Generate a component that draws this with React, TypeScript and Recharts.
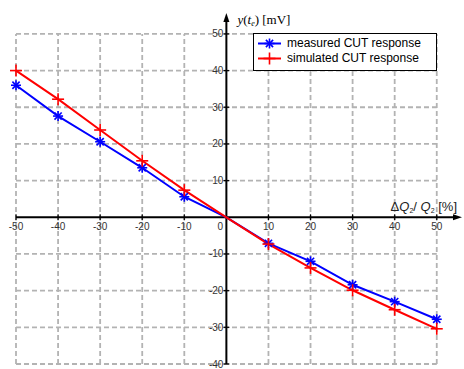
import { ComposedChart, Legend, Line, ReferenceDot, ReferenceLine, XAxis, YAxis } from "recharts"

const deltaQ = [-50, -40, -30, -20, -10, 0, 10, 20, 30, 40, 50]
const measured = [36, 27.6, 20.6, 13.5, 5.6, 0, -7.1, -12, -18.4, -23, -27.8]
const simulated = [40, 32.2, 23.8, 15.4, 7.4, 0, -7.3, -13.8, -19.9, -25.2, -30.4]

const xTicks = [-50, -40, -30, -20, -10, 10, 20, 30, 40, 50]
const yTicks = [-40, -30, -20, -10, 10, 20, 30, 40, 50]
const gridX = [-50, -40, -30, -20, -10, 10, 20, 30, 40, 50]
const gridY = [-40, -30, -20, -10, 10, 20, 30, 40, 50]

const X_MIN = -50
const X_MAX = 50
const Y_MIN = -40
const Y_MAX = 50
const X_ARROW = 56
const Y_ARROW = 55.7

const data = deltaQ.map((q, i) => ({ q, measured: measured[i], simulated: simulated[i] }))

const FONT = "'Liberation Sans', Arial, sans-serif"
const SERIF = "'Liberation Serif', 'Times New Roman', serif"
const GRID = "#b3b3b3"

// no marker drawn at the origin, the axes cross there
function StarDot(props: any) {
  const { cx, cy, payload } = props
  if (cx == null || cy == null || (payload && payload.q === 0)) return null
  const r = 5
  const d = 3.6
  return (
    <g stroke="#0000ff" strokeWidth={1.6}>
      <line x1={cx - r} y1={cy} x2={cx + r} y2={cy} />
      <line x1={cx} y1={cy - r} x2={cx} y2={cy + r} />
      <line x1={cx - d} y1={cy - d} x2={cx + d} y2={cy + d} />
      <line x1={cx - d} y1={cy + d} x2={cx + d} y2={cy - d} />
    </g>
  )
}

function PlusDot(props: any) {
  const { cx, cy, payload } = props
  if (cx == null || cy == null || (payload && payload.q === 0)) return null
  const r = 6
  return (
    <g stroke="#ff0000" strokeWidth={1.6}>
      <line x1={cx - r} y1={cy} x2={cx + r} y2={cy} />
      <line x1={cx} y1={cy - r} x2={cx} y2={cy + r} />
    </g>
  )
}

function xTickShape(label: string) {
  return (p: any) => (
    <g>
      <line x1={p.cx} y1={p.cy - 3} x2={p.cx} y2={p.cy + 3} stroke="#000" strokeWidth={1.2} />
      <text x={p.cx} y={p.cy + 13} textAnchor="middle" fontSize={10} fontFamily={FONT} fill="#333">
        {label}
      </text>
    </g>
  )
}

function yTickShape(label: string) {
  return (p: any) => (
    <g>
      <line x1={p.cx - 3} y1={p.cy} x2={p.cx + 3} y2={p.cy} stroke="#000" strokeWidth={1.2} />
      <text x={p.cx - 3} y={p.cy + 3.5} textAnchor="end" fontSize={10} fontFamily={FONT} fill="#333">
        {label}
      </text>
    </g>
  )
}

function LegendBox() {
  const rows = [
    { name: "measured CUT response", Dot: StarDot, color: "#0000ff" },
    { name: "simulated CUT response", Dot: PlusDot, color: "#ff0000" },
  ]
  return (
    <div
      style={{
        boxSizing: "border-box",
        width: 184,
        height: 38,
        border: "1.5px solid #000",
        background: "#fff",
        padding: "2px 0 0 3px",
        fontFamily: FONT,
        fontSize: 12,
        lineHeight: "15px",
        color: "#000",
      }}
    >
      {rows.map(r => (
        <div key={r.name} style={{ display: "flex", alignItems: "center", height: 15 }}>
          <svg width={28} height={15} style={{ flex: "none" }}>
            <line x1={1} y1={7.5} x2={24} y2={7.5} stroke={r.color} strokeWidth={2} />
            <r.Dot cx={12.5} cy={7.5} />
          </svg>
          <span style={{ whiteSpace: "nowrap", marginLeft: 2 }}>{r.name}</span>
        </div>
      ))}
    </div>
  )
}

export default function App() {
  return (
    <div style={{ position: "absolute", left: 0, top: 0, background: "#fff" }}>
      <ComposedChart
        width={464}
        height={369}
        data={data}
        margin={{ top: 13, right: 2, bottom: 5, left: 16 }}
      >
        <XAxis dataKey="q" type="number" domain={[X_MIN, X_ARROW]} hide />
        <YAxis type="number" domain={[Y_MIN, Y_ARROW]} hide />

        {gridX.map(x => (
          <ReferenceLine
            key={`gx${x}`}
            segment={[{ x, y: Y_MIN }, { x, y: Y_MAX }]}
            stroke={GRID}
            strokeWidth={1.8}
            strokeDasharray="5 3"
          />
        ))}
        {gridY.map(y => (
          <ReferenceLine
            key={`gy${y}`}
            segment={[{ x: X_MIN, y }, { x: X_MAX, y }]}
            stroke={GRID}
            strokeWidth={1.8}
            strokeDasharray="5 3"
          />
        ))}

        <ReferenceLine
          segment={[{ x: X_MIN, y: 0 }, { x: X_ARROW - 1.5, y: 0 }]}
          stroke="#000"
          strokeWidth={2}
        />
        <ReferenceLine
          segment={[{ x: 0, y: Y_MIN }, { x: 0, y: Y_ARROW - 1.5 }]}
          stroke="#000"
          strokeWidth={2}
        />

        <Line
          dataKey="measured"
          stroke="#0000ff"
          strokeWidth={2}
          dot={<StarDot />}
          activeDot={false}
          isAnimationActive={false}
        />
        <Line
          dataKey="simulated"
          stroke="#ff0000"
          strokeWidth={2}
          dot={<PlusDot />}
          activeDot={false}
          isAnimationActive={false}
        />

        {xTicks.map(t => (
          <ReferenceDot key={`xt${t}`} x={t} y={0} r={0} shape={xTickShape(String(t))} />
        ))}
        {yTicks.map(t => (
          <ReferenceDot key={`yt${t}`} x={0} y={t} r={0} shape={yTickShape(String(t))} />
        ))}
        <ReferenceDot
          x={0}
          y={0}
          r={0}
          shape={(p: any) => (
            <text x={p.cx - 6} y={p.cy + 13} textAnchor="middle" fontSize={10} fontFamily={FONT} fill="#333">
              0
            </text>
          )}
        />

        <ReferenceDot
          x={0}
          y={Y_ARROW}
          r={0}
          shape={(p: any) => (
            <g>
              <path d={`M${p.cx},${p.cy} L${p.cx - 3},${p.cy + 9} L${p.cx + 3},${p.cy + 9} Z`} fill="#000" />
              <text x={p.cx + 11} y={p.cy + 11} fontSize={13} fontFamily={SERIF} fill="#000">
                <tspan fontStyle="italic">y</tspan>
                <tspan>(</tspan>
                <tspan fontStyle="italic">t</tspan>
                <tspan fontStyle="italic" fontSize={8} dy={2}>e</tspan>
                <tspan dy={-2}>) [mV]</tspan>
              </text>
            </g>
          )}
        />
        <ReferenceDot
          x={X_ARROW}
          y={0}
          r={0}
          shape={(p: any) => (
            <g>
              <path d={`M${p.cx},${p.cy} L${p.cx - 9},${p.cy - 3} L${p.cx - 9},${p.cy + 3} Z`} fill="#000" />
              <text x={p.cx - 5} y={p.cy - 6} textAnchor="end" fontSize={13} fontFamily={FONT} fill="#222">
                <tspan>Δ</tspan>
                <tspan fontStyle="italic">Q</tspan>
                <tspan fontSize={7} dy={2}>2</tspan>
                <tspan dy={-2}>/ </tspan>
                <tspan fontStyle="italic">Q</tspan>
                <tspan fontSize={7} dy={2}>2</tspan>
                <tspan dy={-2}> [%]</tspan>
              </text>
            </g>
          )}
        />

        <Legend
          content={() => <LegendBox />}
          verticalAlign="middle"
          align="center"
          wrapperStyle={{ position: "absolute", left: 253, top: 33, width: 184, height: 38 }}
        />
      </ComposedChart>
    </div>
  )
}
